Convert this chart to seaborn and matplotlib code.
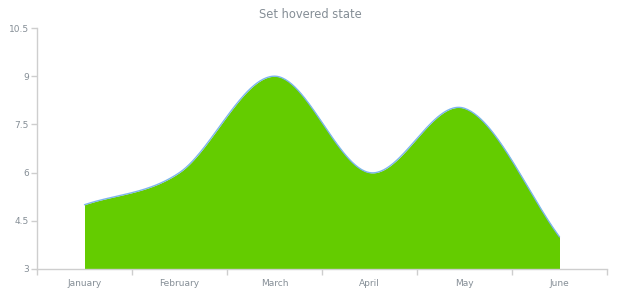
import numpy as np
import pandas as pd
import matplotlib
matplotlib.use("Agg")
import matplotlib.pyplot as plt
import seaborn as sns

months = ["January", "February", "March", "April", "May", "June"]
values = [5, 6, 9, 6, 8, 4]
y_ticks = [3, 4.5, 6, 7.5, 9, 10.5]
title = "Set hovered state"

sns.set_theme(style="white")
plt.rcParams['font.family'] = ['DejaVu Sans']

def catmull_rom(xs, ys, n=60):
    xs = np.asarray(xs, float); ys = np.asarray(ys, float)
    px = np.concatenate([[2*xs[0]-xs[1]], xs, [2*xs[-1]-xs[-2]]])
    py = np.concatenate([[2*ys[0]-ys[1]], ys, [2*ys[-1]-ys[-2]]])
    ox, oy = [], []
    for i in range(1, len(px)-2):
        t = np.linspace(0, 1, n, endpoint=(i == len(px)-3))
        p0, p1, p2, p3 = py[i-1], py[i], py[i+1], py[i+2]
        q0, q1, q2, q3 = px[i-1], px[i], px[i+1], px[i+2]
        f = lambda a0, a1, a2, a3: 0.5*((2*a1) + (-a0+a2)*t + (2*a0-5*a1+4*a2-a3)*t**2 + (-a0+3*a1-3*a2+a3)*t**3)
        ox.append(f(q0, q1, q2, q3)); oy.append(f(p0, p1, p2, p3))
    return np.concatenate(ox), np.concatenate(oy)

xpos = np.arange(len(months))
sx, sy = catmull_rom(xpos, values)
df = pd.DataFrame({"x": sx, "y": sy})

fig = plt.figure(figsize=(6.2, 3.0), dpi=100)
ax = fig.add_axes([37/620, 1-269/300, 570/620, 241/300])

ax.fill_between(df["x"], 3, df["y"], color="#64cc00", linewidth=0, zorder=2)
sns.lineplot(data=df, x="x", y="y", ax=ax, color="#7cb5ec", linewidth=1.0, zorder=3, sort=False)

ax.set_xlim(-0.5, len(months)-0.5)
ax.set_ylim(3, 10.5)
ax.set_yticks(y_ticks)
ax.set_yticklabels(["3", "4.5", "6", "7.5", "9", "10.5"])
ax.set_xticks(np.arange(-0.5, len(months), 1.0))
ax.set_xticklabels([])
ax.set_xticks(xpos, minor=True)
ax.set_xticklabels(months, minor=True)
ax.set_xlabel(""); ax.set_ylabel("")

grey = "#858e96"
for s in ["top", "right"]:
    ax.spines[s].set_visible(False)
for s in ["left", "bottom"]:
    ax.spines[s].set_color("#cecece")
    ax.spines[s].set_linewidth(1.0)
ax.tick_params(axis="y", which="major", length=4, width=1, color="#cecece", labelsize=6.5, labelcolor=grey, pad=2, left=True)
ax.tick_params(axis="x", which="major", length=4, width=1, color="#cecece", bottom=True)
ax.tick_params(axis="x", which="minor", length=0, labelsize=6.5, labelcolor=grey, pad=7, bottom=True)

fig.text(0.5, 1-14/300, title, ha="center", va="center", fontsize=8.3, color=grey)

fig.savefig("out.png", dpi=100, facecolor="white")
